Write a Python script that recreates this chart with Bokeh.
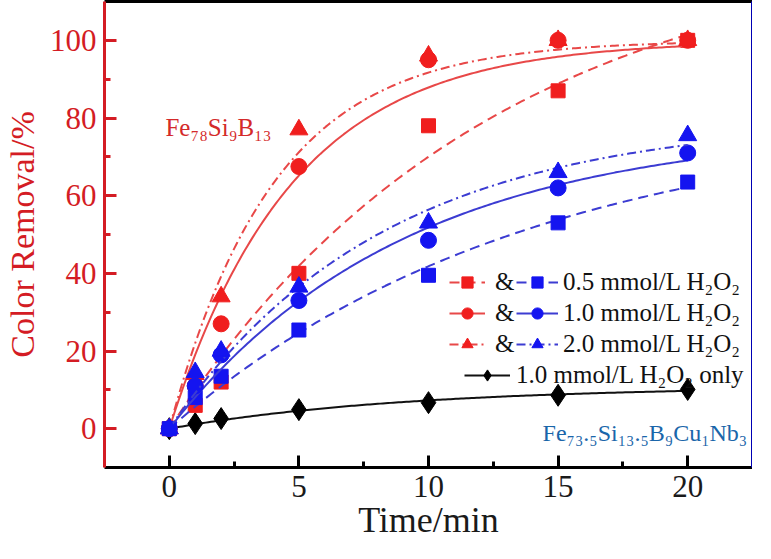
import numpy as np
from bokeh.plotting import figure
from bokeh.models import Range1d, LinearAxis, FixedTicker, Legend, LegendItem, Label
from bokeh.embed import file_html
from bokeh.resources import INLINE

# ---------------- data ----------------
time = [0, 1, 2, 5, 10, 15, 20]
fe78_05 = [0, 6, 12, 40, 78, 87, 100]
fe78_10 = [0, 11, 27, 67.5, 95, 100, 100]
fe78_20 = [0, 14, 34, 77, 96, 100, 100]
fe735_05 = [0, 8, 13.5, 25.4, 39.5, 53, 63.5]
fe735_10 = [0, 11, 19, 33, 48.5, 62, 71]
fe735_20 = [0, 14.5, 20, 36.5, 53, 66, 75.5]
h2o2_only = [0, 1.3, 2.6, 4.9, 6.7, 8.6, 10.1]

x_ticks = [0, 5, 10, 15, 20]
y_ticks = [0, 20, 40, 60, 80, 100]
conc_labels = ["0.5 mmol/L H\u2082O\u2082", "1.0 mmol/L H\u2082O\u2082", "2.0 mmol/L H\u2082O\u2082"]
only_label = "1.0 mmol/L H\u2082O\u2082 only"
fe78_name = "Fe\u2087\u2088Si\u2089B\u2081\u2083"
fe735_name = "Fe\u2087\u2083.\u2085Si\u2081\u2083.\u2085B\u2089Cu\u2081Nb\u2083"

RED_AX = "#d41c24"
RED_M = "#f01e1e"
RED_L = "#e84848"
BLUE_M = "#1414f0"
BLUE_L = "#3c3cd2"
FONT = "Liberation Serif"


def fit_curve(t, y, cap=None, n=200):
    """least-squares pseudo-first-order fit y = A(1-exp(-k t)) of the data"""
    t = np.asarray(t, float)
    y = np.asarray(y, float)
    best = None
    for k in np.linspace(0.002, 3.0, 3000):
        f = 1 - np.exp(-k * t)
        A = (f @ y) / (f @ f)
        if cap is not None:
            A = min(A, cap)
        err = ((A * f - y) ** 2).sum()
        if best is None or err < best[0]:
            best = (err, A, k)
    tt = np.linspace(t.min(), t.max(), n)
    return tt, best[1] * (1 - np.exp(-best[2] * tt))


p = figure(frame_width=648, frame_height=466,
           x_range=Range1d(-2.5, 22.5), y_range=Range1d(-10, 110),
           output_backend="svg", toolbar_location=None,
           min_border_left=104, min_border_right=0, min_border_top=1, min_border_bottom=72)
p.grid.visible = False
p.outline_line_color = None
p.background_fill_color = "white"

xt = np.array(x_ticks, float)
yt = np.array(y_ticks, float)
p.xaxis.ticker = FixedTicker(ticks=x_ticks, minor_ticks=list((xt[:-1] + xt[1:]) / 2))
p.yaxis.ticker = FixedTicker(ticks=y_ticks, minor_ticks=list((yt[:-1] + yt[1:]) / 2))

for ax, col in ((p.xaxis[0], "black"), (p.yaxis[0], RED_AX)):
    ax.axis_line_color = col
    ax.axis_line_width = 3
    ax.major_tick_line_color = col
    ax.minor_tick_line_color = col
    ax.major_tick_line_width = 3
    ax.minor_tick_line_width = 3
    ax.major_tick_in = 12
    ax.major_tick_out = 0
    ax.minor_tick_in = 6
    ax.minor_tick_out = 0
    ax.major_label_text_font = FONT
    ax.major_label_text_font_size = "31px"
    ax.major_label_text_color = "#1a1a1a" if col == "black" else RED_AX
    ax.axis_label_text_font = FONT
    ax.axis_label_text_font_style = "normal"
    ax.axis_label_text_color = "#1a1a1a" if col == "black" else RED_AX
    ax.major_label_standoff = 8

p.xaxis.axis_label = "Time/min"
p.yaxis.axis_label = "Color Removal/%"
p.xaxis.axis_label_text_font_size = "36px"
p.yaxis.axis_label_text_font_size = "34px"
p.xaxis.axis_label_standoff = 0
p.yaxis.axis_label_standoff = 6

for loc, col in (("above", "black"), ("right", "#0000b4")):
    a = LinearAxis(ticker=FixedTicker(ticks=[]), axis_line_color=col, axis_line_width=3,
                   major_tick_in=0, major_tick_out=0, minor_tick_in=0, minor_tick_out=0,
                   major_label_text_font_size="0px", major_label_standoff=0)
    p.add_layout(a, loc)

# black (H2O2 only)
tt, yy = fit_curve(time, h2o2_only)
bl = p.line(tt, yy, line_color="#111111", line_width=2)
bs = p.scatter(time, h2o2_only, marker="diamond", size=22, color="black")

dashes = ["10 6", "solid", "9 4 2 4"]
markers = ["square", "circle", "triangle"]
msizes = [14, 16, 18]
red_caps = [None, 100, 100]

red_items, blue_items = [], []
for ys, d, m, s, c in zip([fe78_05, fe78_10, fe78_20], dashes, markers, msizes, red_caps):
    tt, yy = fit_curve(time, ys, cap=c)
    l = p.line(tt, yy, line_color=RED_L, line_width=2, line_dash=d)
    sc = p.scatter(time, ys, marker=m, size=s, color=RED_M)
    red_items.append((l, sc))
for ys, d, m, s in zip([fe735_05, fe735_10, fe735_20], dashes, markers, msizes):
    tt, yy = fit_curve(time, ys)
    l = p.line(tt, yy, line_color=BLUE_L, line_width=2, line_dash=d)
    sc = p.scatter(time, ys, marker=m, size=s, color=BLUE_M)
    blue_items.append((l, sc))

common = dict(background_fill_alpha=0, border_line_color=None, padding=0, margin=0,
              label_text_font=FONT, label_text_font_size="25px", label_text_color="#111111",
              glyph_height=28, label_height=28, spacing=3)

leg_a = Legend(items=[LegendItem(label="&", renderers=list(r)) for r in red_items],
               location=(345, 109), glyph_width=36, label_standoff=10, **common)
leg_b = Legend(items=[LegendItem(label=lab, renderers=list(r)) for lab, r in zip(conc_labels, blue_items)],
               location=(412, 109), glyph_width=42, label_standoff=5, **common)
leg_c = Legend(items=[LegendItem(label=only_label, renderers=[bl, bs])],
               location=(360, 78), glyph_width=46, label_standoff=6, **common)
for lg in (leg_a, leg_b, leg_c):
    p.add_layout(lg, "center")

p.add_layout(Label(x=-0.15, y=74, text=fe78_name, text_font=FONT, text_font_size="25px",
                   text_color="#d42a2a"))
p.add_layout(Label(x=14.4, y=-4.4, text=fe735_name, text_font=FONT, text_font_size="24px",
                   text_color="#1a66aa"))

open("out.html", "w").write(file_html(p, INLINE))
